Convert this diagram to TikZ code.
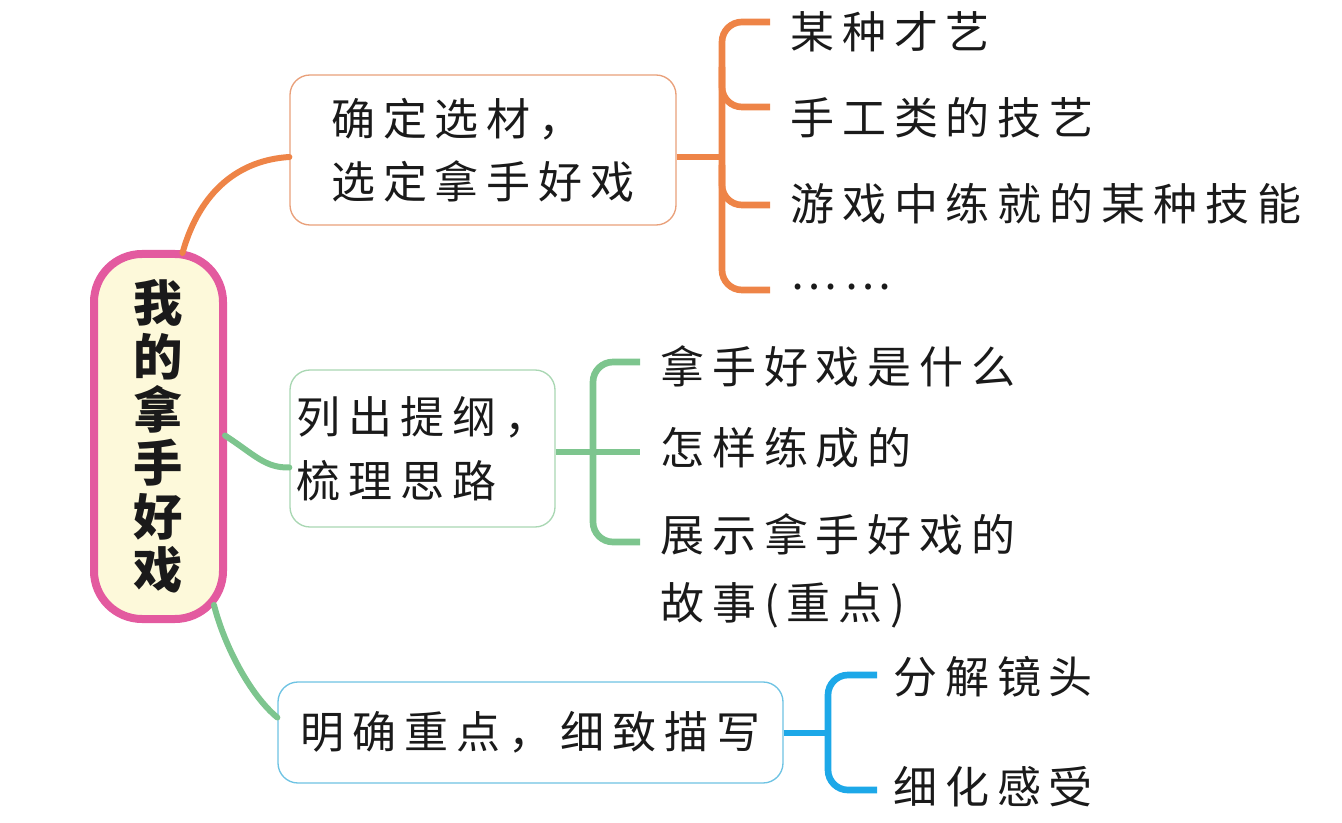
\documentclass[tikz,border=0pt]{standalone}
\usepackage{fontspec}
\usetikzlibrary{calc}
\newfontfamily\cjk{Noto Sans CJK SC}
\newfontfamily\cjkls[LetterSpace=18]{Noto Sans CJK SC}
\definecolor{orangeC}{HTML}{EE8447}
\definecolor{orangeB}{HTML}{E9A07A}
\definecolor{pinkC}{HTML}{E35A9F}
\definecolor{creamC}{HTML}{FDF9DA}
\definecolor{greenC}{HTML}{7DC58E}
\definecolor{greenB}{HTML}{A9D7B3}
\definecolor{blueC}{HTML}{1DA8E8}
\definecolor{blueB}{HTML}{6EC3E3}
\definecolor{inkC}{HTML}{1A1A1A}
\tikzset{
  rootbox/.style={draw=pinkC, line width=6pt, fill=creamC, rounded corners=36pt, minimum width=96.75pt, minimum height=273.75pt, inner sep=0pt, align=center, text=inkC, font={\cjk\bfseries\fontsize{37}{40}\selectfont}},
  topicbox/.style={rounded corners=15pt, line width=1pt, fill=white, inner sep=0pt, align=left, text=inkC, font={\cjkls\fontsize{33}{47}\selectfont}},
  leaf/.style={anchor=west, inner sep=0pt, align=left, text=inkC, font={\cjkls\fontsize{33}{51}\selectfont}},
  conn/.style={line width=4.5pt, line cap=round},
  brace/.style={line width=5pt, rounded corners=15pt},
}
\begin{document}
\begin{tikzpicture}[x=0.75pt, y=-0.75pt]
\useasboundingbox (0,0) rectangle (1342,823);
% root
\node[rootbox] (root) at (158.5,436.5) {我\\的\\拿\\手\\好\\戏};
% topic boxes
\node[topicbox, draw=orangeB, minimum width=289.5pt, minimum height=112.5pt] (box1) at (483,150) {确定选材，\\选定拿手好戏};
\node[topicbox, draw=greenB, minimum width=198.75pt, minimum height=117.75pt, font={\cjkls\fontsize{33}{48}\selectfont}] (box2) at (422.5,448.5) {列出提纲，\\梳理思路};
\node[topicbox, draw=blueB, minimum width=378.75pt, minimum height=75.75pt] (box3) at (530.5,732.5) {明确重点，细致描写};
% connectors root -> topics
\draw[conn, orangeC] ($(root.north)+(24,3)$) .. controls (200,190) and (240,160) .. ($(box1.west)+(0,7)$);
\draw[conn, greenC] ($(root.east)+(-2,-1)$) .. controls (255,455) and (265,468) .. ($(box2.west)+(0,19)$);
\draw[conn, greenC] ($(root.south east)+(-13,-18)$) .. controls (224,645) and (250,695) .. ($(box3.west)+(0,-15)$);
% orange bracket
\coordinate (oj) at (722,157);
\coordinate (o1) at (770,22);
\coordinate (o2) at (770,107);
\coordinate (o3) at (770,205);
\coordinate (o4) at (770,290);
\draw[line width=5pt, orangeC] (box1.east |- oj) -- (oj);
\draw[brace, orangeC] (o1) -- (o1 -| oj) -- (o4 -| oj) -- (o4);
\draw[brace, orangeC] ([yshift=30pt]oj |- o2) |- (o2);
\draw[brace, orangeC] ([yshift=30pt]oj |- o3) |- (o3);
% green bracket
\coordinate (gj) at (593,452);
\coordinate (g1) at (640,362);
\coordinate (g2) at (640,452);
\coordinate (g3) at (640,542);
\draw[line width=5pt, greenC] (box2.east |- gj) -- (g2);
\draw[brace, greenC] (g1) -- (g1 -| gj) -- (g3 -| gj) -- (g3);
% blue bracket
\coordinate (bj) at (828,733);
\coordinate (b1) at (877,675);
\coordinate (b2) at (877,790);
\draw[line width=5pt, blueC] (box3.east |- bj) -- (bj);
\draw[brace, blueC] (b1) -- (b1 -| bj) -- (b2 -| bj) -- (b2);
% leaves
\node[leaf] (l1) at (790,32) {某种才艺};
\node[leaf] (l2) at (790,118) {手工类的技艺};
\node[leaf] (l3) at (790,204) {游戏中练就的某种技能};
\node[leaf] (l4) at (790,287) {……};
\node[leaf] (m1) at (660,366) {拿手好戏是什么};
\node[leaf] (m2) at (660,448) {怎样练成的};
\node[leaf] (m3) at (660,571) {展示拿手好戏的\\故事(重点)};
\node[leaf] (n1) at (893,677) {分解镜头};
\node[leaf] (n2) at (893,787) {细化感受};
\end{tikzpicture}
\end{document}
